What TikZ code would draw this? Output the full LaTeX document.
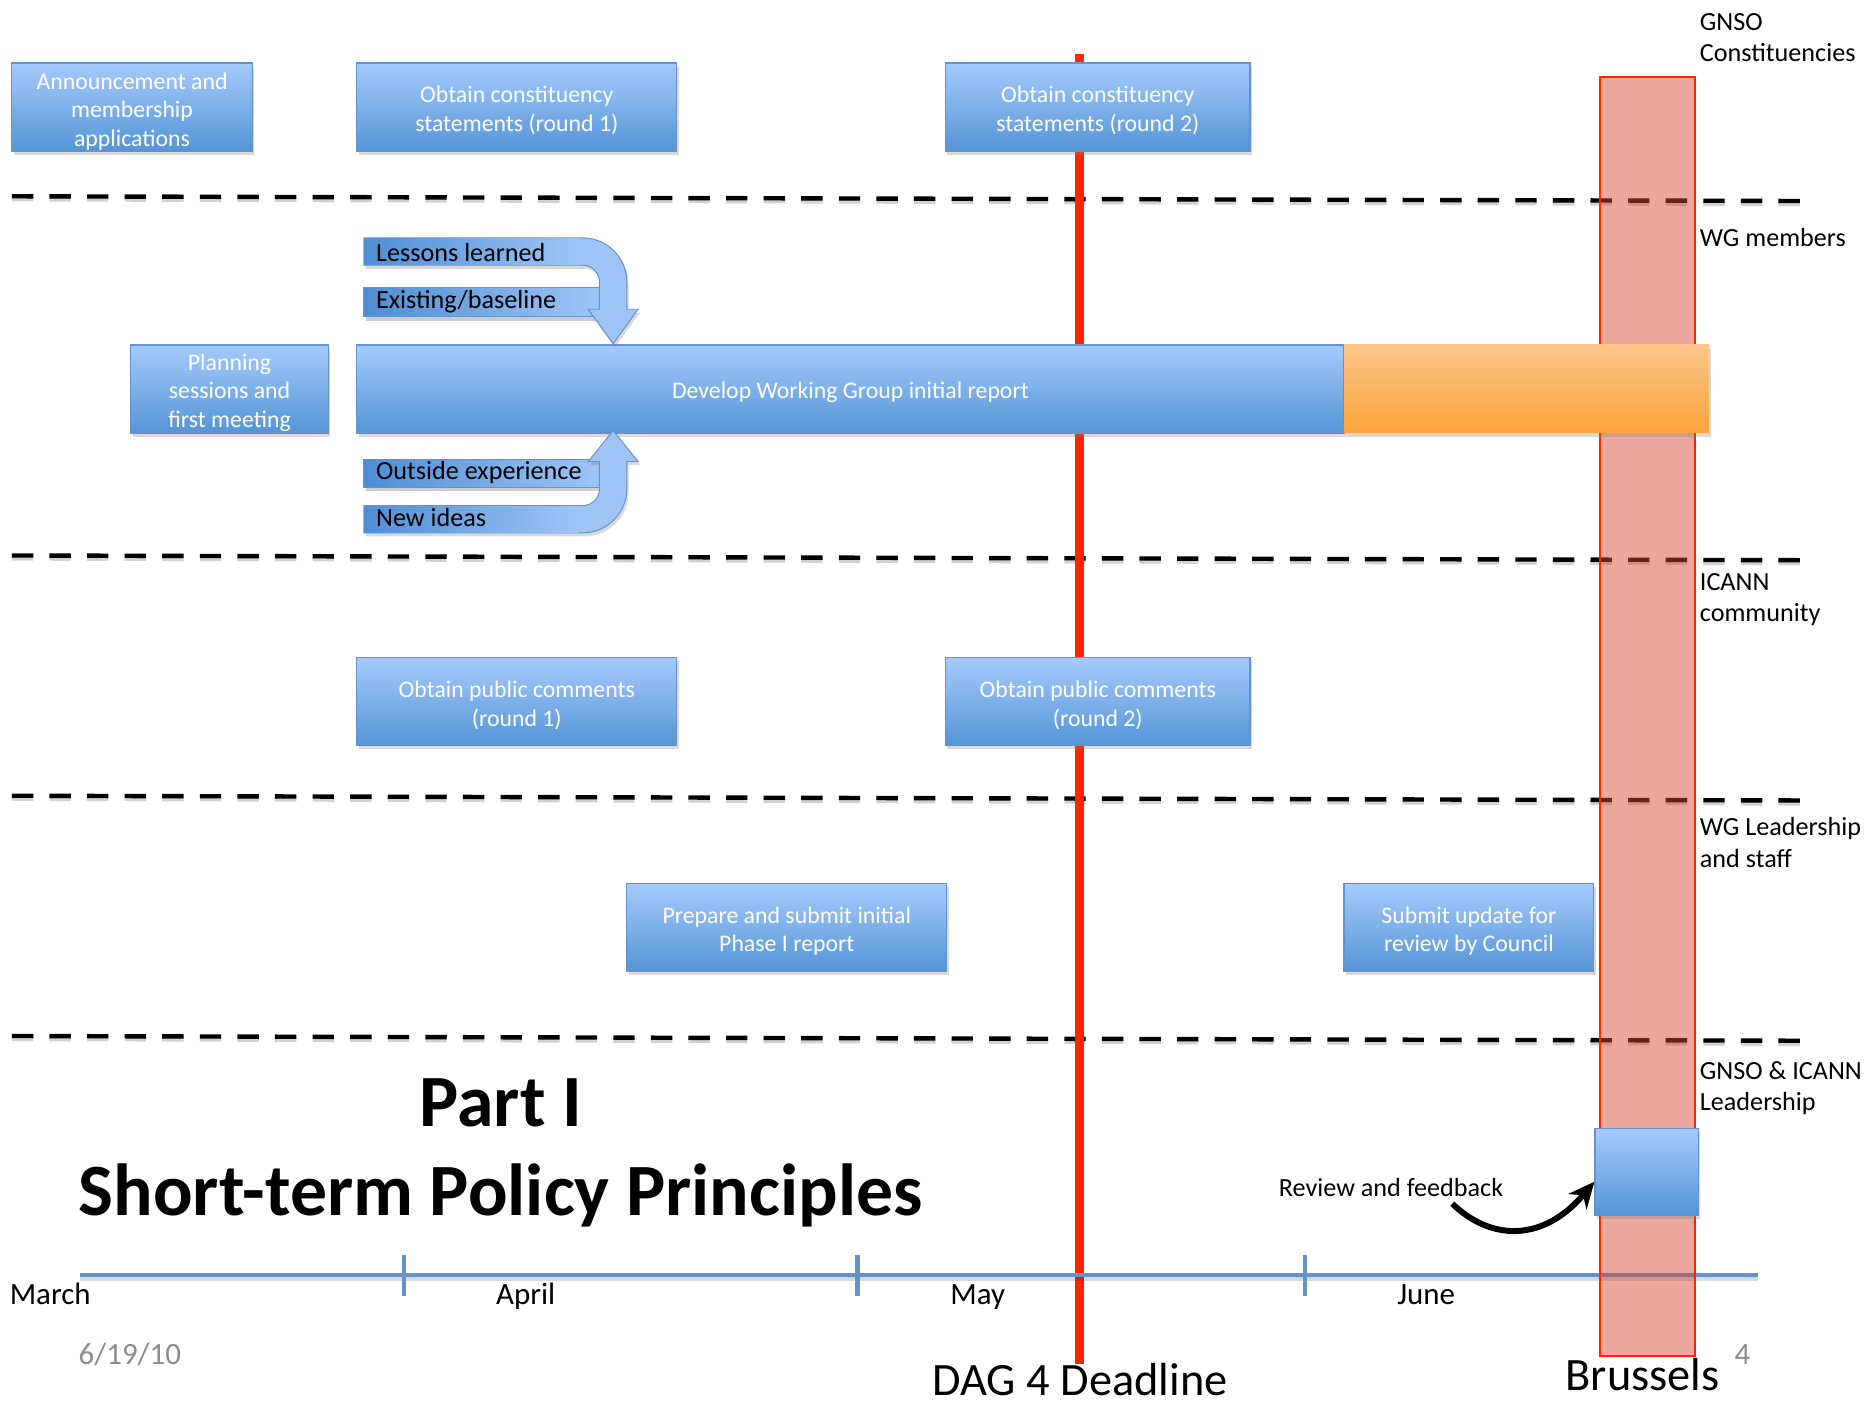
\documentclass[tikz,border=0pt]{standalone}
\usepackage{fontspec}
\setmainfont{Carlito}
\usetikzlibrary{shadows,arrows.meta}
\definecolor{boxtop}{RGB}{166,202,252}
\definecolor{boxbot}{RGB}{84,149,214}
\definecolor{boxline}{RGB}{100,146,204}
\definecolor{ortop}{RGB}{254,197,138}
\definecolor{orbot}{RGB}{252,164,58}
\definecolor{bardark}{RGB}{78,142,212}
\definecolor{barlight}{RGB}{158,197,246}
\definecolor{redline}{RGB}{255,36,0}
\definecolor{pinkfill}{RGB}{213,73,50}
\definecolor{axisblue}{RGB}{98,148,202}
\definecolor{grayt}{RGB}{140,140,140}
\begin{document}
\begin{tikzpicture}[x=1pt,y=-1pt,
  shad/.style={drop shadow={opacity=0.3,shadow xshift=1.5pt,shadow yshift=-3pt}},
  bluebox/.style={shad, draw=boxline, line width=1pt, top color=boxtop, bottom color=boxbot,
    inner sep=0pt, minimum height=74pt},
  boxtext/.style={text=white, align=center, font=\fontsize{20}{24}\selectfont, inner sep=0pt},
  orbox/.style={shad, top color=ortop, bottom color=orbot, inner sep=0pt, minimum height=74pt},
  barrect/.style={draw=boxline, line width=0.8pt, left color=bardark, right color=barlight},
  arrowband/.style={shad, draw=boxline, line width=0.8pt, fill=barlight},
  bartext/.style={anchor=west, inner sep=0pt, font=\fontsize{22}{26}\selectfont},
  lanelab/.style={anchor=west, inner sep=0pt, align=left, font=\fontsize{22}{26.5}\selectfont},
  dashline/.style={line width=3.7pt, dash pattern=on 18pt off 13.6pt},
  dashshadow/.style={line width=3.7pt, dash pattern=on 18pt off 13.6pt, black, opacity=0.18},
  monthlab/.style={anchor=base, inner sep=0pt, font=\fontsize{26}{30}\selectfont},
  titlef/.style={anchor=base, inner sep=0pt, font=\bfseries\fontsize{62}{74}\selectfont},
  bigl/.style={anchor=base, inner sep=0pt, font=\fontsize{39}{46}\selectfont},
  grayl/.style={anchor=base, inner sep=0pt, text=grayt, font=\fontsize{26}{30}\selectfont}
]
\useasboundingbox (0,0) rectangle (1568,1181);

% dashed lane separators
\foreach \ya/\yb in {165/169, 467/471, 669/673, 871/875} {
  \draw[dashshadow] (10,\ya+2.5) -- (1518,\yb+2.5);
  \draw[dashline] (10,\ya) -- (1518,\yb);
}

% deadline red line
\draw[redline, line width=8pt] (907.5,45) -- (907.5,1147);

% timeline
\draw[black, opacity=0.15, line width=4pt] (67,1075) -- (1478,1075);
\draw[axisblue, line width=4pt] (67,1072) -- (1478,1072);
\foreach \tx in {340,721,1097} {
  \draw[axisblue, line width=3.5pt] (\tx,1055) -- (\tx,1090);
}

% blue boxes
\node[bluebox, minimum width=202pt] (ann) at (111,90) {};
\node[bluebox, minimum width=269pt] (c1) at (434.5,90) {};
\node[bluebox, minimum width=256pt] (c2) at (923,90) {};
\node[bluebox, minimum width=166pt] (plan) at (193,327) {};
\node[bluebox, minimum width=830pt] (dev) at (715,327) {};
\node[bluebox, minimum width=269pt] (pc1) at (434.5,590) {};
\node[bluebox, minimum width=256pt] (pc2) at (923,590) {};
\node[bluebox, minimum width=269pt] (prep) at (661.5,780) {};
\node[bluebox, minimum width=210pt] (sub) at (1235,780) {};

\node[boxtext] (annt) at ([yshift=-3.5pt]ann.center) {Announcement and\\membership\\applications};
\node[boxtext] (c1t) at ([yshift=-3pt]c1.center) {Obtain constituency\\statements (round 1)};
\node[boxtext] (c2t) at ([yshift=-3pt]c2.center) {Obtain constituency\\statements (round 2)};
\node[boxtext] (plant) at ([yshift=-3pt]plan.center) {Planning\\sessions and\\first meeting};
\node[boxtext] (devt) at ([yshift=-3pt]dev.center) {Develop Working Group initial report};
\node[boxtext] (pc1t) at ([yshift=-3pt]pc1.center) {Obtain public comments\\(round 1)};
\node[boxtext] (pc2t) at ([yshift=-3pt]pc2.center) {Obtain public comments\\(round 2)};
\node[boxtext] (prept) at ([yshift=-3pt]prep.center) {Prepare and submit initial\\Phase I report};
\node[boxtext] (subt) at ([yshift=-3pt]sub.center) {Submit update for\\review by Council};

% input bars and curved arrows (top)
\fill[black, opacity=0.2] (307.5,245) rectangle (505.5,269.5);
\draw[barrect] (306,242) rectangle (504,266);
\draw[arrowband] (306,200) -- (490,200) .. controls (510.4,200) and (527,216.6) .. (527,237)
  -- (527,260) -- (536.5,260) -- (515.5,289) -- (494.5,260) -- (504,260) -- (504,237)
  .. controls (504,229.3) and (497.7,223) .. (490,223) -- (306,223) -- cycle;
\fill[left color=bardark, right color=barlight] (306.5,200.5) rectangle (486,222.5);
% bottom
\fill[black, opacity=0.2] (307.5,389) rectangle (505.5,413);
\draw[barrect] (306,386) rectangle (504,410);
\draw[arrowband] (306,448) -- (490,448) .. controls (510.4,448) and (527,431.4) .. (527,411)
  -- (527,388) -- (536.5,388) -- (515.5,362) -- (494.5,388) -- (504,388) -- (504,411)
  .. controls (504,418.7) and (497.7,425) .. (490,425) -- (306,425) -- cycle;
\fill[left color=bardark, right color=barlight] (306.5,425.5) rectangle (486,447.5);

\node[bartext] (ll) at (316,212.5) {Lessons learned};
\node[bartext] (eb) at (316,254) {Existing/baseline};
\node[bartext] (oe) at (316,397) {Outside experience};
\node[bartext] (ni) at (316,435) {New ideas};

% Brussels column
\fill[pinkfill, opacity=0.48] (1345,65) rectangle (1425,1140);
\draw[redline, line width=1.5pt] (1345,65) rectangle (1425,1140);

% orange extension and review square
\node[orbox, minimum width=307pt] (orng) at (1283.5,327) {};
\node[bluebox, minimum width=87pt, minimum height=73pt] (sq) at (1384.5,985.5) {};

% lane labels
\node[lanelab] (l1) at (1429,31.5) {GNSO\\Constituencies};
\node[lanelab] (l2) at (1429,199.5) {WG members};
\node[lanelab] (l3) at (1429,504) {ICANN\\community};
\node[lanelab] (l4) at (1429,708.5) {WG Leadership\\and staff};
\node[lanelab] (l5) at (1429,915) {GNSO \& ICANN\\Leadership};

% title
\node[titlef] (part) at (421,947) {Part I};
\node[titlef] (stp) at (421,1022) {Short-term Policy Principles};

% review arrow
\node[anchor=west, inner sep=0pt, font=\fontsize{22}{26}\selectfont] (rev) at (1075,998) {Review and feedback};
\coordinate (revstart) at (1221,1012);
\draw[line width=5pt, -{Stealth[length=22pt,width=20pt]}] (revstart) .. controls (1252,1042) and (1296,1046) .. ([yshift=-8pt]sq.west);

% months
\node[monthlab, anchor=base west] (mar) at (8,1097) {March};
\node[monthlab] (apr) at (442,1097) {April};
\node[monthlab] (may) at (822,1097) {May};
\node[monthlab] (jun) at (1199,1097) {June};

% footer
\node[grayl, anchor=base west] (date) at (66,1147) {6/19/10};
\node[grayl] (pg) at (1465,1147) {4};
\node[bigl] (dag) at (908,1173) {DAG 4 Deadline};
\node[bigl] (bru) at (1381,1169) {Brussels};
\end{tikzpicture}
\end{document}
